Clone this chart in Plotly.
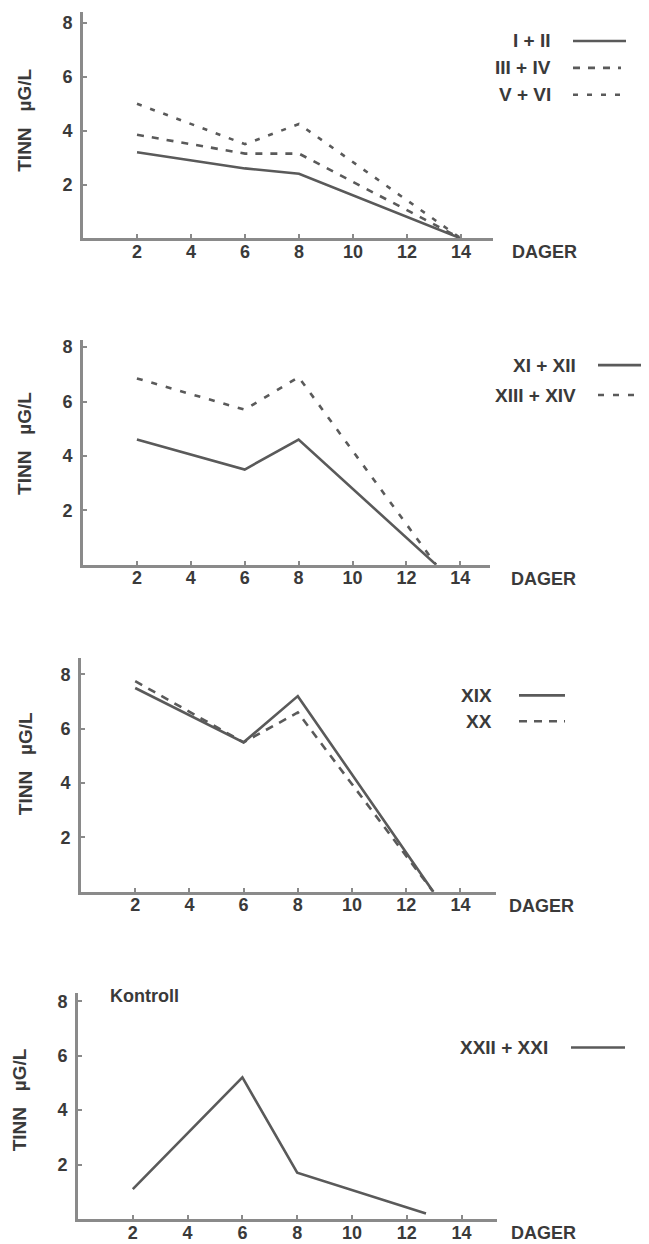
import plotly.graph_objects as go

# page body has an 8px default margin; work in window pixels and compensate
OFF = 8
WIN_W, WIN_H = 649, 1244
W, H = WIN_W - OFF, WIN_H - OFF

# ---------------- data ----------------
# Panel 1
days_p1 = [2, 6, 8, 14]
tinn_I_II = [3.2, 2.6, 2.4, 0.0]
tinn_III_IV = [3.85, 3.15, 3.15, 0.0]
tinn_V_VI = [5.0, 3.5, 4.25, 0.0]
# Panel 2
days_p2 = [2, 6, 8, 13.1]
tinn_XI_XII = [4.6, 3.5, 4.6, 0.0]
tinn_XIII_XIV = [6.85, 5.7, 6.9, 0.0]
# Panel 3
days_p3 = [2, 6, 8, 13]
tinn_XIX = [7.5, 5.5, 7.2, 0.0]
tinn_XX = [7.75, 5.5, 6.6, 0.0]
# Panel 4 (Kontroll)
days_p4 = [2, 6, 8, 12.7]
tinn_XXII_XXI = [1.1, 5.2, 1.7, 0.2]

x_ticks = [2, 4, 6, 8, 10, 12, 14]
y_ticks = [2, 4, 6, 8]
x_label = "DAGER"
y_label = "TINN\u00a0\u00a0\u00a0µG/L"
kontroll_label = "Kontroll"

# ---------------- styling / layout ----------------
LINE_C = "#5a5a5a"
AXIS_C = "#8a8a8a"
TEXT_C = "#3a3a3a"
FONT = "Liberation Sans, Arial, sans-serif"

# per panel (window px): x0, px per day, xmax, y0, px per unit, ymax
geo = [
    (83, 27.0, 15.2, 236, 27.0, 8.4),
    (83, 26.95, 15.1, 563, 27.25, 8.26),
    (81, 27.1, 15.3, 891, 27.25, 8.6),
    (78, 27.4, 15.3, 1219, 27.3, 8.3),
]

series = [
    [(days_p1, tinn_I_II, "I + II", "solid"),
     (days_p1, tinn_III_IV, "III + IV", "7px,8px"),
     (days_p1, tinn_V_VI, "V + VI", "5px,9px")],
    [(days_p2, tinn_XI_XII, "XI + XII", "solid"),
     (days_p2, tinn_XIII_XIV, "XIII + XIV", "6px,9px")],
    [(days_p3, tinn_XIX, "XIX", "solid"),
     (days_p3, tinn_XX, "XX", "8px,7px")],
    [(days_p4, tinn_XXII_XXI, "XXII + XXI", "solid")],
]

# legend placement per panel: text right edge, first row y, row step, line x0
legend_pos = [
    (553, 38, 27, 573),
    (578, 363, 30, 598),
    (494, 694, 26, 519),
    (550, 1047, 27, 571),
]
legend_line_ends = [
    [626, 621, 627],
    [649, 634],
    [565, 565],
    [625],
]

dager_pos = [(544, 250), (543, 577), (541, 905), (543, 1233)]
ytitle_pos = [(25, 118), (25, 442), (25, 763), (19, 1100)]

fig = go.Figure()
annotations = []
shapes = []


def px(xp):
    return (xp - OFF) / W


def py(yp):
    return 1 - (yp - OFF) / H


for i, (x0, xs, xmax, y0, ys, ymax) in enumerate(geo):
    n = i + 1
    xa = "x" if n == 1 else f"x{n}"
    ya = "y" if n == 1 else f"y{n}"
    for (xd, yd, name, dash) in series[i]:
        fig.add_trace(go.Scatter(
            x=xd, y=yd, mode="lines", name=name, showlegend=False,
            line=dict(color=LINE_C, width=2.6, dash=dash),
            xaxis=xa, yaxis=ya,
        ))
    axis_common = dict(
        showline=True, linecolor=AXIS_C, linewidth=3,
        showgrid=False, zeroline=False,
        ticks="inside", ticklen=4, tickwidth=1.5, tickcolor=AXIS_C,
        tickfont=dict(family=FONT, size=18, color=TEXT_C, weight="bold"),
        fixedrange=True,
    )
    fig.layout[f"xaxis{'' if n == 1 else n}"] = dict(
        axis_common,
        domain=[px(x0), px(x0 + xmax * xs)],
        range=[0, xmax], tickmode="array", tickvals=x_ticks,
        ticktext=[str(v) for v in x_ticks],
        anchor=ya, ticklabelstandoff=-5,
    )
    fig.layout[f"yaxis{'' if n == 1 else n}"] = dict(
        axis_common,
        domain=[py(y0), py(y0 - ymax * ys)],
        range=[0, ymax], tickmode="array", tickvals=y_ticks,
        ticktext=[str(v) for v in y_ticks],
        anchor=xa, ticklabelstandoff=4,
    )

    dx, dy = dager_pos[i]
    annotations.append(dict(
        x=px(dx), y=py(dy), xref="paper", yref="paper", text=x_label,
        showarrow=False, xanchor="center", yanchor="middle",
        font=dict(family=FONT, size=18, color=TEXT_C, weight="bold"),
    ))
    tx, ty = ytitle_pos[i]
    annotations.append(dict(
        x=px(tx), y=py(ty), xref="paper", yref="paper", text=y_label,
        showarrow=False, textangle=-90, xanchor="center", yanchor="middle",
        font=dict(family=FONT, size=19, color=TEXT_C, weight="bold"),
    ))

    tr, ly, step, lx0 = legend_pos[i]
    for k, (xd, yd, name, dash) in enumerate(series[i]):
        yy = ly + k * step
        annotations.append(dict(
            x=px(tr), y=py(yy), xref="paper", yref="paper", text=name,
            showarrow=False, xanchor="right", yanchor="middle",
            font=dict(family=FONT, size=19, color=TEXT_C, weight="bold"),
        ))
        shapes.append(dict(
            type="line", xref="paper", yref="paper",
            x0=px(lx0), x1=px(legend_line_ends[i][k]), y0=py(yy), y1=py(yy),
            line=dict(color=LINE_C, width=2.6, dash=dash),
        ))

annotations.append(dict(
    x=px(108), y=py(995), xref="paper", yref="paper", text=kontroll_label,
    showarrow=False, xanchor="left", yanchor="middle",
    font=dict(family=FONT, size=18, color=TEXT_C, weight="bold"),
))

fig.update_layout(
    width=W, height=H,
    margin=dict(l=0, r=0, t=0, b=0),
    paper_bgcolor="white", plot_bgcolor="white",
    annotations=annotations, shapes=shapes,
    showlegend=False,
)

fig.write_html("out.html", config={"displayModeBar": False})
